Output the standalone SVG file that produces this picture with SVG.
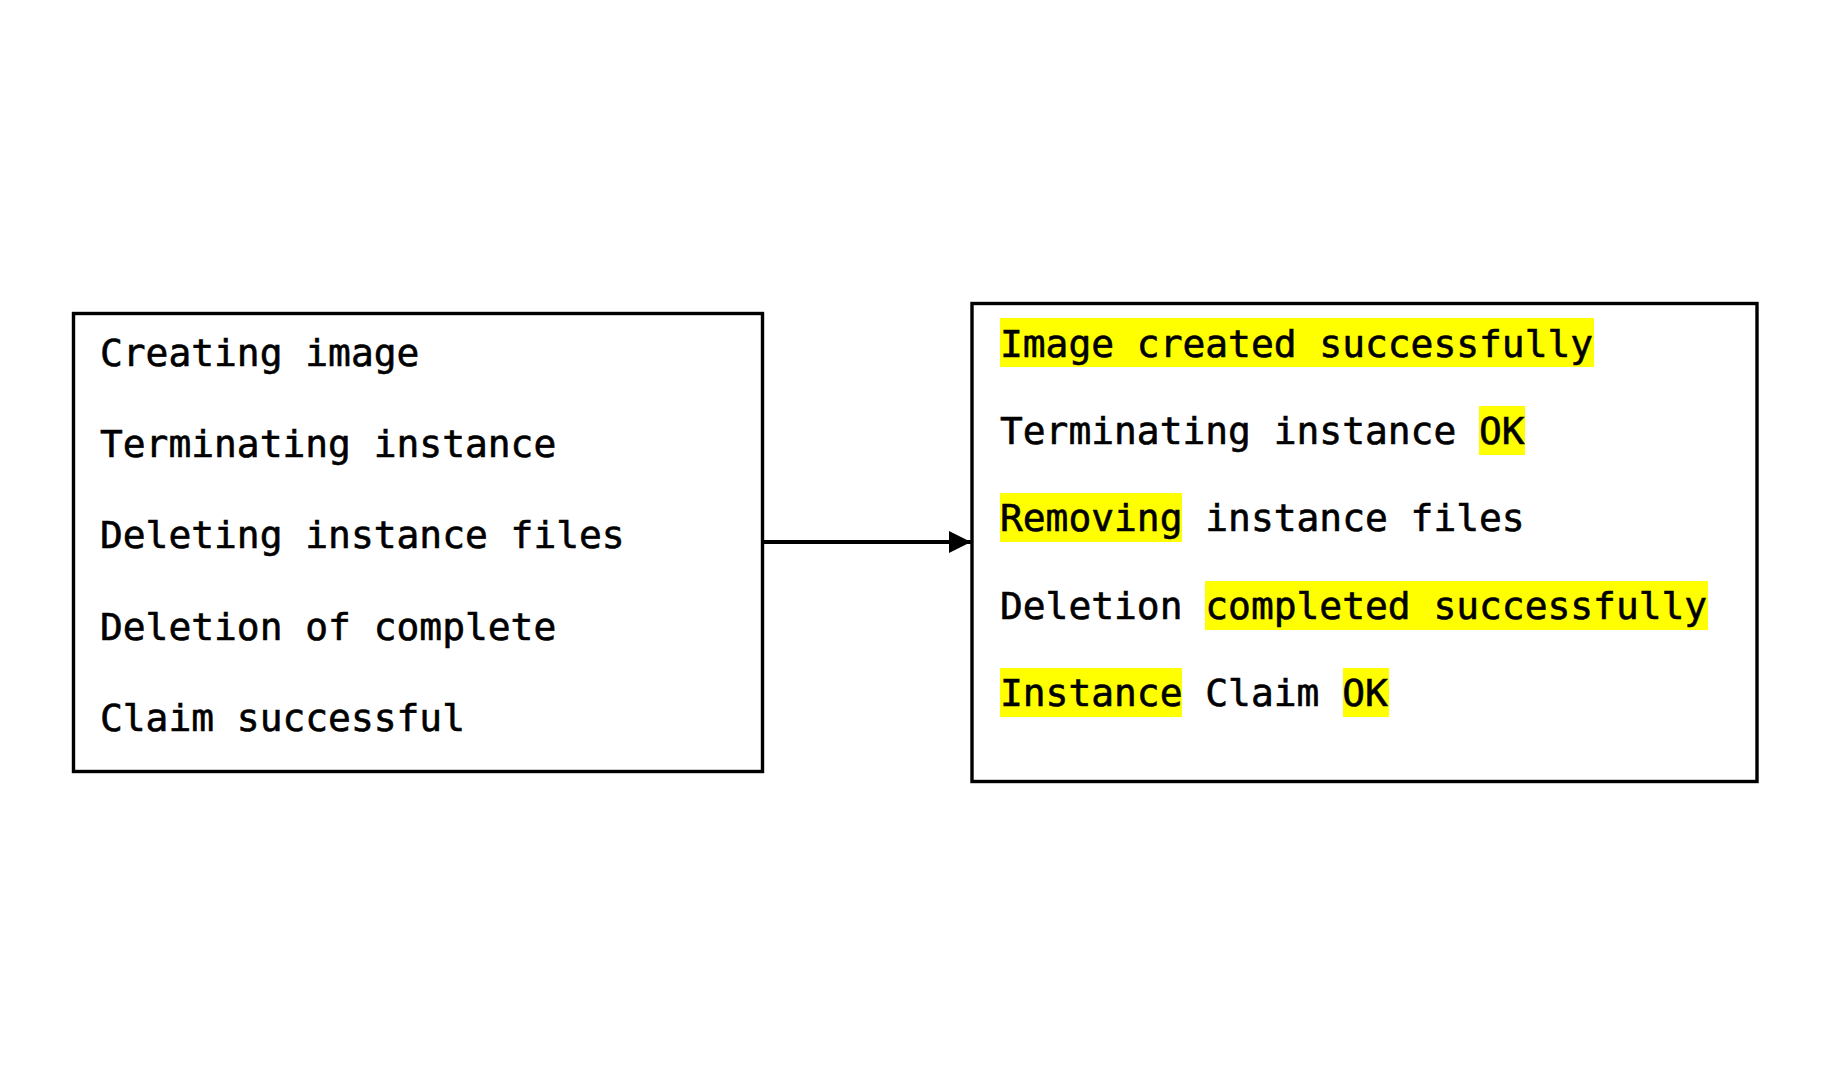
<svg xmlns="http://www.w3.org/2000/svg" width="1821" height="1086" viewBox="0 0 1821 1086">
<style>
.box{fill:#fff;stroke:#000;stroke-width:3.4}
.t{font-family:"DejaVu Sans Mono","Liberation Mono",monospace;font-size:37.9px;fill:#000;stroke:#000;stroke-width:0.6px}
.hl{fill:#ffff00}
</style>
<defs>
<marker id="ah" markerUnits="userSpaceOnUse" markerWidth="24" markerHeight="24" refX="22" refY="11" orient="auto">
<path d="M0,0 L22,11 L0,22 Z" fill="#000"/>
</marker>
</defs>
<rect width="1821" height="1086" fill="#fff"/>
<g id="left-box">
<rect class="box" x="73.5" y="313.5" width="689" height="458"/>
<text class="t" x="100" y="366">Creating image</text>
<text class="t" x="100" y="457">Terminating instance</text>
<text class="t" x="100" y="548">Deleting instance files</text>
<text class="t" x="100" y="640">Deletion of complete</text>
<text class="t" x="100" y="731">Claim successful</text>
</g>
<g id="right-box">
<rect class="box" x="972" y="303.5" width="785" height="478"/>
<rect class="hl" x="1000" y="318" width="594" height="49"/>
<rect class="hl" x="1479" y="406" width="46" height="49"/>
<rect class="hl" x="1000" y="493" width="182" height="49"/>
<rect class="hl" x="1205" y="581" width="503" height="49"/>
<rect class="hl" x="1000" y="668" width="182" height="49"/>
<rect class="hl" x="1343" y="668" width="46" height="49"/>
<text class="t" x="1000" y="357">Image created successfully</text>
<text class="t" x="1000" y="444">Terminating instance OK</text>
<text class="t" x="1000" y="531">Removing instance files</text>
<text class="t" x="1000" y="619">Deletion completed successfully</text>
<text class="t" x="1000" y="706">Instance Claim OK</text>
</g>
<g id="connectors">
<line x1="764" y1="542" x2="971" y2="542" stroke="#000" stroke-width="4" marker-end="url(#ah)"/>
</g>
</svg>
